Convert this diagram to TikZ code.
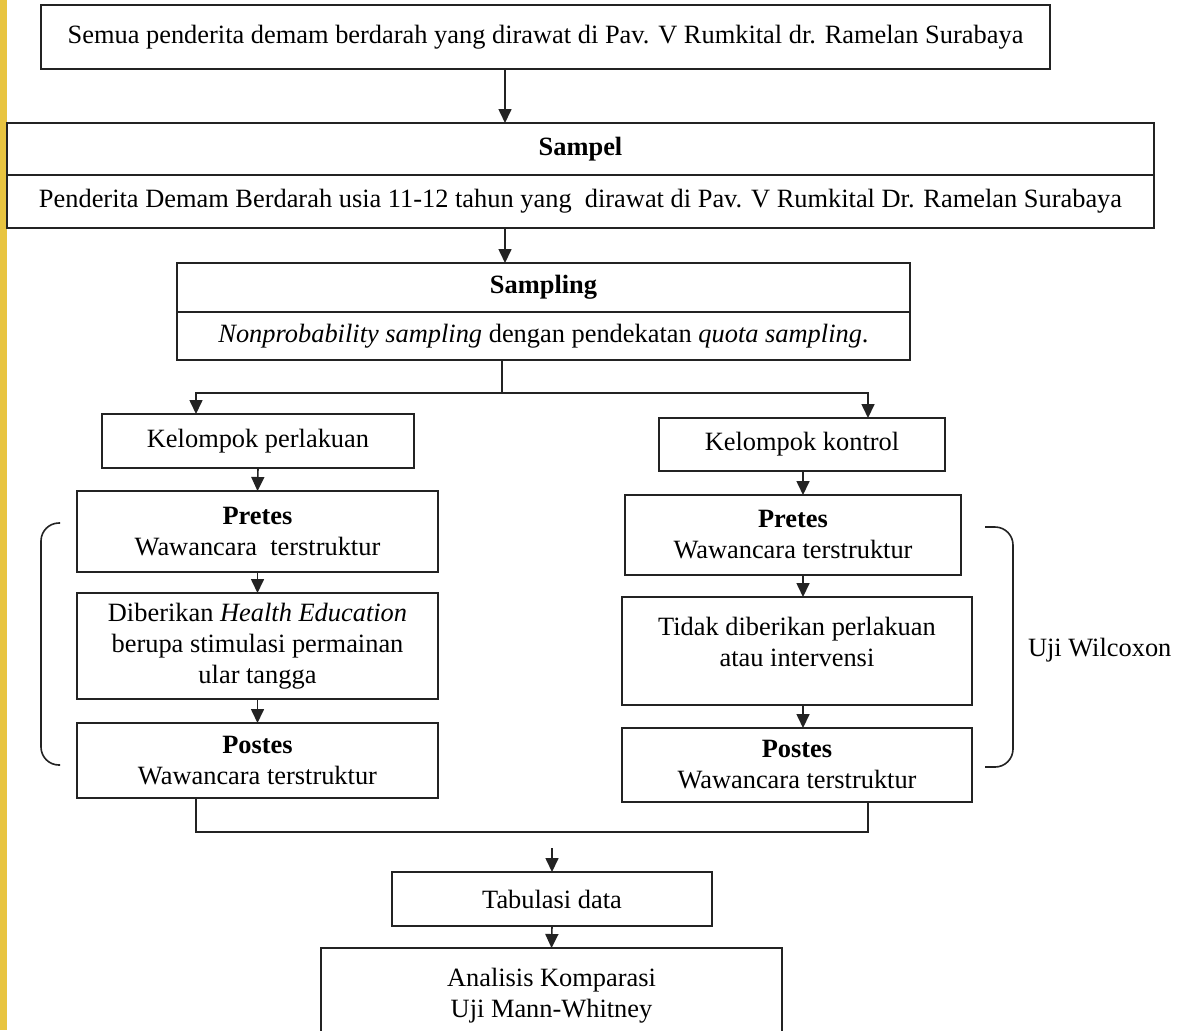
\documentclass[tikz,border=0pt]{standalone}
\usepackage{fontspec}
\setmainfont{Liberation Serif}
\usetikzlibrary{arrows.meta}
\definecolor{tinta}{RGB}{35,35,35}
\definecolor{pitakuning}{RGB}{232,196,64}

\begin{document}
\begin{tikzpicture}[x=0.5pt,y=-0.5pt,
    kotak/.style={draw=tinta, line width=0.9pt, inner sep=0pt, outer sep=0pt, align=center,
        font=\fontsize{13.2}{15.5}\selectfont},
    garis/.style={draw=tinta, line width=0.8pt},
    panah/.style={garis, -{Triangle[length=7pt,width=6.5pt]}},
    kurung/.style={draw=tinta, line width=0.8pt, rounded corners=9pt}]
                \useasboundingbox (0,0) rectangle (1186,1030);
                \clip (0,0) rectangle (1186,1030);
                
                % Drawing yellow strip at the left edge
                \fill[pitakuning] (0,0) rectangle (7,1030);%
                
                % Drawing box Populasi
                \node[kotak, minimum width=504.5pt, minimum height=32pt] (semua) at (545.5,37) {Semua penderita demam berdarah yang dirawat di Pav. V Rumkital dr. Ramelan Surabaya};%
                
                % Drawing box Sampel (two parts)
                \node[kotak, minimum width=573.5pt, minimum height=26pt] (sampel) at (580.5,149) {\textbf{Sampel}};%
                \node[kotak, minimum width=573.5pt, minimum height=26.5pt, anchor=north] (sampelisi) at (sampel.south) {Penderita Demam Berdarah usia 11-12 tahun yang~ dirawat di Pav. V Rumkital Dr. Ramelan Surabaya};%
                
                % Drawing box Sampling (two parts)
                \node[kotak, minimum width=366.5pt, minimum height=24.5pt] (sampling) at (543.5,287.5) {\textbf{Sampling}};%
                \node[kotak, minimum width=366.5pt, minimum height=24pt, anchor=north] (samplingisi) at (sampling.south) {\textit{Nonprobability sampling} dengan pendekatan \textit{quota sampling}.};%
                
                % Drawing boxes of the two groups
                \node[kotak, minimum width=156pt, minimum height=27pt] (perlakuan) at (258,441) {Kelompok perlakuan};%
                \node[kotak, minimum width=143pt, minimum height=26.5pt] (kontrol) at (802,444.5) {Kelompok kontrol};%
                
                % Drawing left column
                \node[kotak, minimum width=180.5pt, minimum height=40.5pt] (pretesL) at (257.5,531.5) {\textbf{Pretes}\\Wawancara~ terstruktur};%
                \node[kotak, minimum width=180.5pt, minimum height=53pt] (diberikan) at (257.5,646) {Diberikan \textit{Health Education}\\berupa stimulasi permainan\\ular tangga};%
                \node[kotak, minimum width=180.5pt, minimum height=37.5pt] (postesL) at (257.5,760.5) {\textbf{Postes}\\Wawancara terstruktur};%
                
                % Drawing right column
                \node[kotak, minimum width=168pt, minimum height=40pt] (pretesR) at (793,535) {\textbf{Pretes}\\Wawancara terstruktur};%
                \node[kotak, minimum width=175pt, minimum height=54pt] (tidak) at (797,651) {Tidak diberikan perlakuan\\atau intervensi\\[-6pt]\mbox{}};%
                \node[kotak, minimum width=175pt, minimum height=37pt] (postesR) at (797,765) {\textbf{Postes}\\Wawancara terstruktur};%
                
                % Drawing boxes of the analysis
                \node[kotak, minimum width=160pt, minimum height=27pt] (tabulasi) at (552,899) {Tabulasi data};%
                \node[kotak, minimum width=230.5pt, minimum height=47.5pt, anchor=north] (analisis) at (551.5,948) {Analisis Komparasi\\Uji Mann-Whitney};%
                
                % Drawing label of the brackets
                \node[kotak, draw=none, anchor=west] (wilcoxon) at (1028,650) {Uji Wilcoxon};%
                
                % Drawing arrows of the main line
                \coordinate (sumbu) at (505,0);
                \draw[panah] (semua.south -| sumbu) -- (sampel.north -| sumbu);%
                \draw[panah] (sampelisi.south -| sumbu) -- (sampling.north -| sumbu);%
                
                % Drawing split to the two groups
                \coordinate (bagi) at (502,393);
                \coordinate (cabangkiri) at (196,0);
                \coordinate (cabangkanan) at (868,0);
                \draw[garis] (samplingisi.south -| bagi) -- (bagi);%
                \draw[panah] (bagi) -| (perlakuan.north -| cabangkiri);%
                \draw[panah] (bagi) -| (kontrol.north -| cabangkanan);%
                
                % Drawing arrows of left column
                \draw[panah] (perlakuan.south) -- (pretesL.north);%
                \draw[panah] (pretesL.south) -- (diberikan.north);%
                \draw[panah] (diberikan.south) -- (postesL.north);%
                
                % Drawing arrows of right column
                \coordinate (jalurkanan) at (803,0);
                \draw[panah] (kontrol.south -| jalurkanan) -- (pretesR.north -| jalurkanan);%
                \draw[panah] (pretesR.south -| jalurkanan) -- (tidak.north -| jalurkanan);%
                \draw[panah] (tidak.south -| jalurkanan) -- (postesR.north -| jalurkanan);%
                
                % Drawing merge of the two groups
                \coordinate (gabung) at (552,832);
                \coordinate (awaltab) at (552,848);
                \draw[garis] (postesL.south -| cabangkiri) |- (gabung) -| (postesR.south -| cabangkanan);%
                \draw[panah] (awaltab) -- (tabulasi.north);%
                \draw[panah] (tabulasi.south) -- (analisis.north);%
                
                % Drawing brackets
                \draw[kurung] (60,523) -- (41,523) -- (41,765) -- (60,765);%
                \draw[kurung] (985,527) -- (1013,527) -- (1013,767) -- (985,767);%
\end{tikzpicture}
\end{document}
